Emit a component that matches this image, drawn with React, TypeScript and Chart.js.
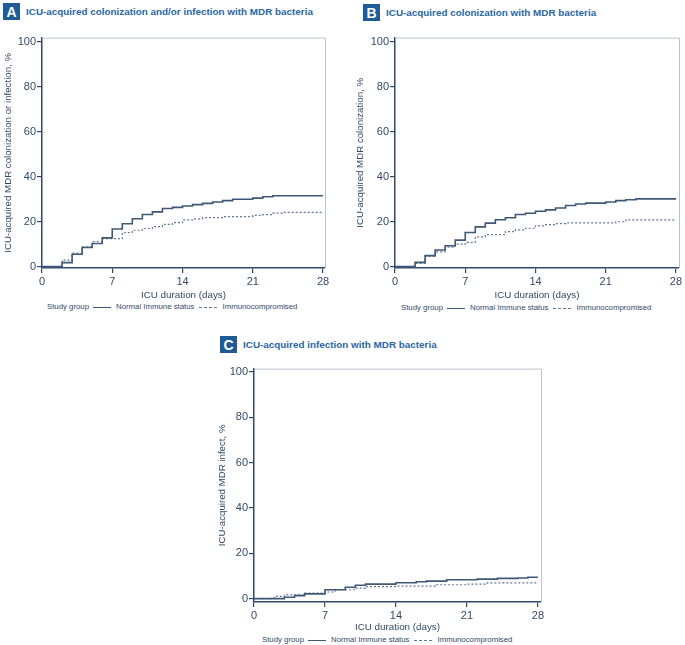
import React, { useEffect, useRef } from "react";
import { Chart, registerables } from "chart.js";

Chart.register(...registerables);

// ---------- data ----------
const xTickValues = [0, 7, 14, 21, 28];
const yTickValues = [0, 20, 40, 60, 80, 100];
const seriesLabels = ["Normal Immune status", "Immunocompromised"];
const legendTitle = "Study group";
const xAxisTitle = "ICU duration (days)";

// Panel A
const aNormalDays = [0, 2, 3, 4, 5, 6, 7, 8, 9, 10, 11, 12, 13, 14, 15, 16, 17, 18, 19, 21, 22, 23, 28];
const aNormalPct = [0, 1.8, 5.5, 8.5, 10.3, 12.8, 16.8, 19.1, 21.3, 23.2, 24.4, 25.9, 26.4, 27.0, 27.6, 28.2, 28.8, 29.4, 30.0, 30.5, 31.1, 31.6, 31.6];
const aImmunoDays = [0, 2, 3, 4, 5, 6, 8, 9, 10, 11, 12, 13, 14, 15, 16, 18, 21, 22, 23, 24, 28];
const aImmunoPct = [0, 2.9, 6.0, 8.8, 11.2, 12.5, 15.2, 16.2, 17.0, 17.8, 18.8, 19.6, 20.8, 21.3, 21.8, 22.3, 22.8, 23.2, 23.8, 24.2, 24.2];

// Panel B
const bNormalDays = [0, 2, 3, 4, 5, 6, 7, 8, 9, 10, 11, 12, 13, 14, 15, 16, 17, 18, 19, 21, 22, 23, 24, 28];
const bNormalPct = [0, 1.9, 4.9, 7.4, 9.3, 11.8, 15.2, 17.7, 19.4, 20.9, 21.8, 23.2, 23.8, 24.7, 25.3, 26.1, 27.2, 27.9, 28.3, 28.8, 29.4, 29.8, 30.2, 30.2];
const bImmunoDays = [0, 2, 3, 4, 5, 6, 7, 8, 9, 11, 12, 13, 14, 15, 16, 17, 22, 23, 28];
const bImmunoPct = [0, 1.5, 4.6, 6.6, 8.7, 10.0, 10.8, 13.3, 14.3, 15.6, 16.4, 17.1, 18.2, 18.7, 19.2, 19.5, 20.0, 20.8, 20.8];

// Panel C
const cNormalDays = [0, 3, 4, 5, 7, 9, 10, 11, 14, 16, 17, 19, 22, 24, 26, 27, 28];
const cNormalPct = [0, 0.6, 1.3, 2.1, 3.9, 5.0, 5.9, 6.4, 7.0, 7.4, 7.7, 8.3, 8.6, 8.9, 9.1, 9.4, 9.4];
const cImmunoDays = [0, 2, 3, 5, 7, 8, 10, 11, 14, 18, 21, 23, 28];
const cImmunoPct = [0, 1.0, 1.6, 2.4, 2.9, 3.9, 4.6, 5.3, 5.5, 6.1, 6.4, 6.9, 6.9];

// ---------- styles ----------
const FONT = "'Liberation Sans', Arial, Helvetica, sans-serif";
const AXIS_COLOR = "#2f4a68";
const TEXT_COLOR = "#2f4a68";
const BOX_COLOR = "#b9c3cd";
const NORMAL_COLOR = "#3e5876";
const IMMUNO_COLOR = "#5f7793";
const TITLE_COLOR = "#2866a4";
const BADGE_COLOR = "#1f5b97";

type Geom = {
  left: number; top: number; width: number; height: number;
  plotLeft: number; plotTop: number; plotRight: number; plotBottom: number;
};

const toPoints = (days: number[], pct: number[]) => days.map((d, i) => ({ x: d, y: pct[i] }));

const boxPlugin = {
  id: "kmBox",
  beforeDatasetsDraw(chart: any) {
    const { ctx, chartArea } = chart;
    ctx.save();
    ctx.strokeStyle = BOX_COLOR;
    ctx.lineWidth = 1;
    ctx.beginPath();
    ctx.moveTo(chartArea.left, chartArea.top + 0.5);
    ctx.lineTo(chartArea.right + 0.5, chartArea.top + 0.5);
    ctx.lineTo(chartArea.right + 0.5, chartArea.bottom);
    ctx.stroke();
    ctx.restore();
  },
};

function KMChart(props: {
  geom: Geom; yTitle: string;
  normalDays: number[]; normalPct: number[];
  immunoDays: number[]; immunoPct: number[];
  xMax: number; yMin: number; yMax: number;
}) {
  const ref = useRef<HTMLCanvasElement | null>(null);
  const { geom } = props;
  useEffect(() => {
    if (!ref.current) return;
    const yAxisW = geom.plotLeft - geom.left;
    const xAxisH = geom.top + geom.height - geom.plotBottom;
    const chart = new Chart(ref.current, {
      type: "line",
      data: {
        datasets: [
          {
            label: seriesLabels[0],
            data: toPoints(props.normalDays, props.normalPct),
            borderColor: NORMAL_COLOR,
            borderWidth: 1.6,
            stepped: true,
            pointRadius: 0,
            fill: false,
          },
          {
            label: seriesLabels[1],
            data: toPoints(props.immunoDays, props.immunoPct),
            borderColor: IMMUNO_COLOR,
            borderWidth: 1.2,
            borderDash: [2, 2],
            stepped: true,
            pointRadius: 0,
            fill: false,
          },
        ],
      },
      options: {
        animation: false,
        responsive: false,
        devicePixelRatio: 1,
        layout: {
          padding: {
            top: geom.plotTop - geom.top,
            right: geom.left + geom.width - geom.plotRight,
            left: 0,
            bottom: 0,
          },
        },
        plugins: {
          legend: { display: false },
          tooltip: { enabled: false },
          title: { display: false },
        },
        scales: {
          x: {
            type: "linear",
            min: 0,
            max: props.xMax,
            afterBuildTicks: (s: any) => { s.ticks = xTickValues.map((v) => ({ value: v })); },
            afterFit: (s: any) => { s.height = xAxisH; },
            grid: { drawOnChartArea: false, drawTicks: true, tickLength: 5, color: AXIS_COLOR, lineWidth: 1.2 },
            border: { color: AXIS_COLOR, width: 1.5 },
            ticks: { color: TEXT_COLOR, font: { family: FONT, size: 11 }, padding: 2, maxRotation: 0, autoSkip: false },
            title: { display: true, text: xAxisTitle, color: TEXT_COLOR, font: { family: FONT, size: 9.8 }, padding: { top: 0, bottom: 0 } },
          },
          y: {
            type: "linear",
            min: props.yMin,
            max: props.yMax,
            afterBuildTicks: (s: any) => { s.ticks = yTickValues.map((v) => ({ value: v })); },
            afterFit: (s: any) => { s.width = yAxisW; },
            grid: { drawOnChartArea: false, drawTicks: true, tickLength: 5, color: AXIS_COLOR, lineWidth: 1.2 },
            border: { color: AXIS_COLOR, width: 1.5 },
            ticks: { color: TEXT_COLOR, font: { family: FONT, size: 11 }, padding: 1 },
            title: { display: true, text: props.yTitle, color: TEXT_COLOR, font: { family: FONT, size: 9.7 }, padding: { top: 3, bottom: 0 } },
          },
        },
      },
      plugins: [boxPlugin],
    } as any);
    return () => chart.destroy();
  }, []);
  return (
    <canvas
      ref={ref}
      width={geom.width}
      height={geom.height}
      style={{ position: "absolute", left: geom.left, top: geom.top, width: geom.width, height: geom.height }}
    />
  );
}

function PanelTitle(props: { letter: string; text: string; left: number; top: number }) {
  return (
    <div style={{ position: "absolute", left: props.left, top: props.top, display: "flex", alignItems: "center", fontFamily: FONT }}>
      <div style={{ width: 17, height: 17, background: BADGE_COLOR, color: "#fff", fontWeight: 700, fontSize: 14, display: "flex", alignItems: "center", justifyContent: "center", lineHeight: 1 }}>
        {props.letter}
      </div>
      <div style={{ marginLeft: 6, color: TITLE_COLOR, fontWeight: 700, fontSize: 9.9, whiteSpace: "nowrap" }}>{props.text}</div>
    </div>
  );
}

function Legend(props: { left: number; top: number }) {
  return (
    <div style={{ position: "absolute", left: props.left, top: props.top, height: 10, display: "flex", alignItems: "center", fontFamily: FONT, fontSize: 7.8, color: TEXT_COLOR, whiteSpace: "nowrap", lineHeight: "10px" }}>
      <span>{legendTitle}</span>
      <span style={{ width: 18, height: 0, marginLeft: 4, marginRight: 5, borderTop: `1.5px solid ${NORMAL_COLOR}` }} />
      <span>{seriesLabels[0]}</span>
      <span style={{ width: 18, height: 0, marginLeft: 5, marginRight: 5, borderTop: `1px dashed ${IMMUNO_COLOR}` }} />
      <span>{seriesLabels[1]}</span>
    </div>
  );
}

export default function App() {
  const geomA: Geom = { left: 0, top: 30, width: 340, height: 271, plotLeft: 42, plotTop: 35, plotRight: 325, plotBottom: 268 };
  const geomB: Geom = { left: 352, top: 30, width: 333, height: 271, plotLeft: 395, plotTop: 35, plotRight: 679, plotBottom: 268 };
  const geomC: Geom = { left: 214, top: 361, width: 346, height: 272, plotLeft: 254, plotTop: 366, plotRight: 541, plotBottom: 602 };
  return (
    <div style={{ position: "absolute", left: 0, top: 0, width: 685, height: 645, background: "#fff", overflow: "hidden" }}>
      <PanelTitle letter="A" text="ICU-acquired colonization and/or infection with MDR bacteria" left={3} top={3} />
      <KMChart geom={geomA} yTitle="ICU-acquired MDR colonization or infection, %" normalDays={aNormalDays} normalPct={aNormalPct} immunoDays={aImmunoDays} immunoPct={aImmunoPct} xMax={28.2} yMin={-0.6} yMax={102} />
      <Legend left={47} top={302} />

      <PanelTitle letter="B" text="ICU-acquired colonization with MDR bacteria" left={363} top={4} />
      <KMChart geom={geomB} yTitle="ICU-acquired MDR colonization, %" normalDays={bNormalDays} normalPct={bNormalPct} immunoDays={bImmunoDays} immunoPct={bImmunoPct} xMax={28.3} yMin={-0.6} yMax={102} />
      <Legend left={401} top={303} />

      <PanelTitle letter="C" text="ICU-acquired infection with MDR bacteria" left={220} top={336} />
      <KMChart geom={geomC} yTitle="ICU-acquired MDR infect, %" normalDays={cNormalDays} normalPct={cNormalPct} immunoDays={cImmunoDays} immunoPct={cImmunoPct} xMax={28.3} yMin={-1.5} yMax={101.4} />
      <Legend left={262} top={635} />
    </div>
  );
}
